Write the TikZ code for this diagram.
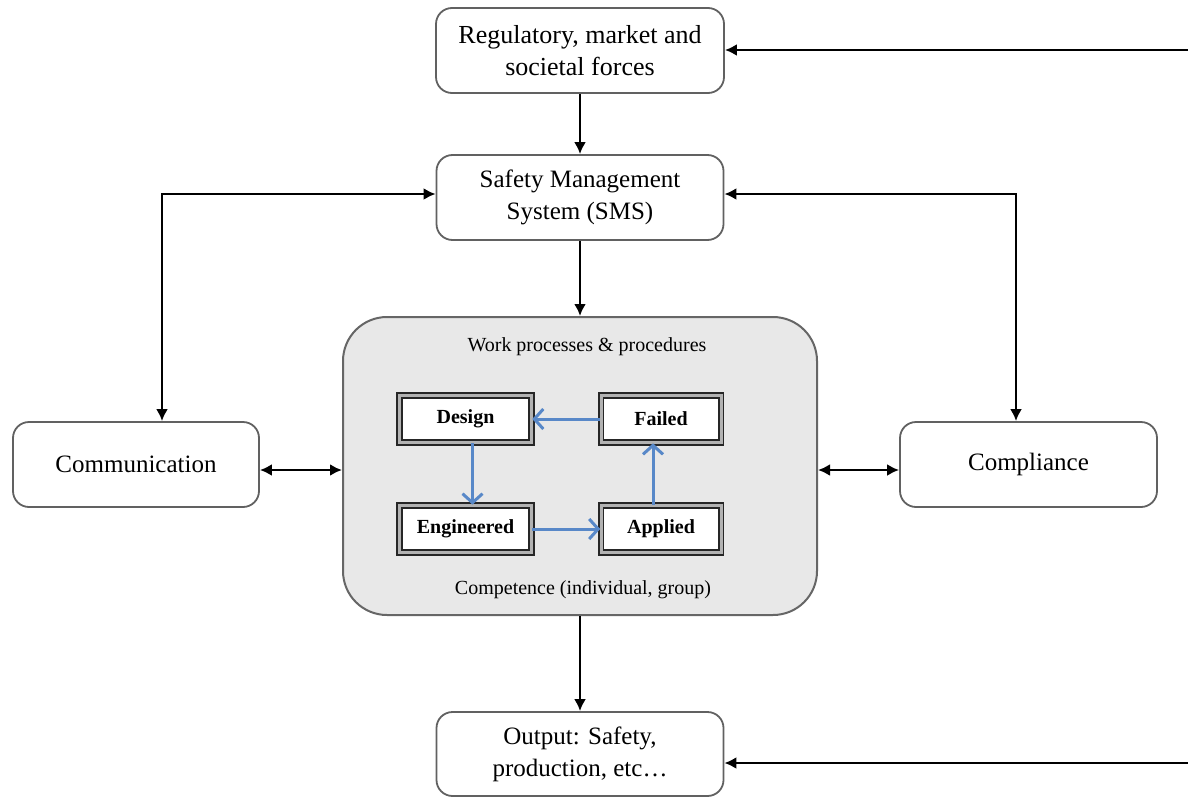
\documentclass[tikz,border=0pt]{standalone}
\usepackage{fontspec}
\setmainfont{Liberation Serif}
\usetikzlibrary{arrows.meta}
\definecolor{bluearrow}{RGB}{88,136,200}
\begin{document}
\begin{tikzpicture}[x=0.5pt,y=-0.5pt,
  box/.style={draw=black!62, line width=0.9pt, rounded corners=8pt, fill=white, align=center,
    font=\fontsize{12.5}{16}\selectfont, inner sep=0pt},
  conn/.style={line width=1.4pt, -{Latex[length=6pt,width=6pt]}},
  both/.style={line width=1.4pt, {Latex[length=6pt,width=6pt]}-{Latex[length=6pt,width=6pt]}},
  innerbox/.style={draw=black!85, line width=0.8pt, double=black!30, double distance=1.5pt,
    fill=white, font=\fontsize{10}{12}\selectfont\bfseries, inner sep=0pt},
  bluearr/.style={draw=bluearrow, line width=1.5pt, -{Straight Barb[length=4.5pt,width=10pt]}},
  small/.style={font=\fontsize{10}{12}\selectfont, inner sep=0pt}
]
\useasboundingbox (0,0) rectangle (1188,803);

% main boxes
\node[box, font=\fontsize{13}{16}\selectfont, minimum width=144pt, minimum height=42.5pt] (reg) at (580,50.5) {Regulatory, market and\\societal forces};
\node[box, minimum width=143.5pt, minimum height=42.5pt] (sms) at (580,197.5) {Safety Management\\System (SMS)};
\node[draw=black!60, line width=1pt, fill=black!9, rounded corners=22pt,
      minimum width=237pt, minimum height=149pt, inner sep=0pt] (wp) at (580,466) {};
\node[small] (wpt) at (587,347) {Work processes \& procedures};
\node[small] (cmp) at (583,590) {Competence (individual, group)};
\node[box, minimum width=123pt, minimum height=42.5pt] (comm) at (136,464.5) {Communication};
\node[box, minimum width=128.5pt, minimum height=42.5pt] (compl) at (1028.5,464.5) {Compliance};
\node[box, minimum width=143.5pt, minimum height=42pt] (out) at (580,754) {Output: Safety,\\production, etc\ldots};

% inner boxes
\node[innerbox, minimum width=66pt, minimum height=23.5pt] (D) at (465.5,419) {Design};
\node[innerbox, minimum width=60pt, minimum height=23.5pt] (F) at (661,419) {Failed};
\node[innerbox, minimum width=66pt, minimum height=23.5pt] (E) at (465.5,529) {Engineered};
\node[innerbox, minimum width=60pt, minimum height=23.5pt] (A) at (661,529) {Applied};

% blue arrows
\draw[bluearr] (F.west) -- (D.east);
\draw[bluearr] ([xshift=3.5pt]D.south) -- ([xshift=3.5pt]E.north);
\draw[bluearr] (E.east) -- (A.west);
\draw[bluearr] ([xshift=-4pt]A.north) -- ([xshift=-4pt]F.south);

% black arrows
\draw[conn] (reg) -- (sms);
\draw[conn] (sms) -- (wp);
\draw[conn] (wp) -- (out);
\coordinate (re1) at (1188,50);
\coordinate (re2) at (1188,763);
\draw[conn] (re1) -- (re1 -| reg.east);
\draw[conn] (re2) -- (re2 -| out.east);
\coordinate (lc) at (162,194);
\coordinate (rc) at (1016,194);
\draw[both] (lc |- comm.north) -- (lc) -- (lc -| sms.west);
\draw[both] (rc -| sms.east) -- (rc) -- (rc |- compl.north);
\coordinate (hy) at (0,470);
\draw[both] (hy -| comm.east) -- (hy -| wp.west);
\draw[both] (hy -| wp.east) -- (hy -| compl.west);
\end{tikzpicture}
\end{document}
